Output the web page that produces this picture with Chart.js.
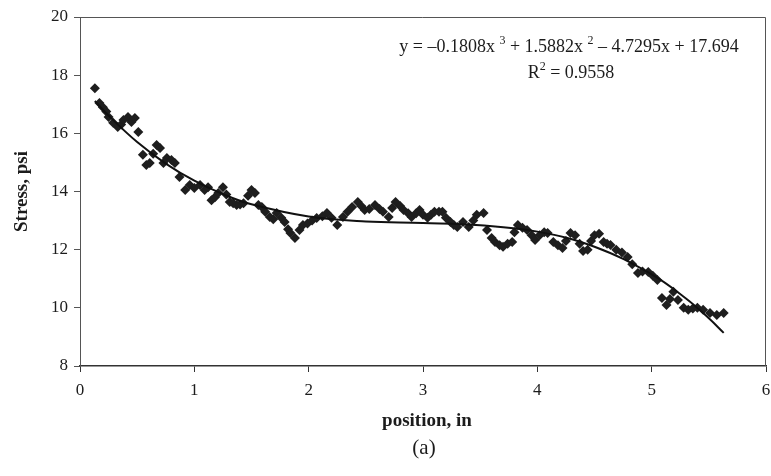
<!DOCTYPE html>
<html>
<head>
<meta charset="utf-8">
<script src="https://cdn.jsdelivr.net/npm/chart.js@4/dist/chart.umd.min.js"></script>
<style>
  html, body { margin: 0; padding: 0; background: #fff; }
  #wrap { width: 771px; height: 476px; }
</style>
</head>
<body>
<div id="wrap"><canvas id="myChart"></canvas></div>
<script>
// measured points (position in, stress psi)
const posX = [0.13, 0.17, 0.20, 0.23, 0.25, 0.29, 0.33, 0.36, 0.38, 0.42, 0.45, 0.48, 0.51, 0.55, 0.58, 0.61, 0.64, 0.67, 0.70, 0.73,
  0.76, 0.80, 0.83, 0.87, 0.92, 0.96, 1.00, 1.05, 1.09, 1.12, 1.15, 1.18, 1.21, 1.25, 1.28, 1.31, 1.34, 1.37, 1.40, 1.43,
  1.47, 1.50, 1.53, 1.56, 1.59, 1.62, 1.66, 1.69, 1.72, 1.76, 1.79, 1.82, 1.84, 1.88, 1.92, 1.95, 1.99, 2.03, 2.07, 2.12,
  2.16, 2.20, 2.25, 2.30, 2.34, 2.38, 2.43, 2.46, 2.49, 2.53, 2.58, 2.62, 2.65, 2.70, 2.73, 2.76, 2.80, 2.83, 2.87, 2.90,
  2.94, 2.97, 3.00, 3.04, 3.07, 3.10, 3.14, 3.17, 3.20, 3.24, 3.27, 3.30, 3.35, 3.40, 3.44, 3.47, 3.53, 3.56, 3.60, 3.63,
  3.67, 3.70, 3.74, 3.78, 3.80, 3.83, 3.87, 3.91, 3.95, 3.98, 4.02, 4.06, 4.09, 4.14, 4.18, 4.22, 4.25, 4.29, 4.33, 4.37,
  4.40, 4.44, 4.47, 4.50, 4.54, 4.58, 4.61, 4.64, 4.69, 4.74, 4.79, 4.83, 4.88, 4.92, 4.97, 5.01, 5.05, 5.09, 5.13, 5.16,
  5.19, 5.23, 5.28, 5.32, 5.36, 5.40, 5.45, 5.51, 5.57, 5.63];
const stress = [17.55, 17.04, 16.9, 16.75, 16.56, 16.36, 16.22, 16.3, 16.46, 16.56, 16.39, 16.53, 16.05, 15.26, 14.91, 14.98, 15.3, 15.6, 15.5, 14.98,
  15.15, 15.08, 14.98, 14.5, 14.05, 14.22, 14.12, 14.22, 14.05, 14.15, 13.7, 13.8, 13.95, 14.15, 13.9, 13.64, 13.6, 13.54, 13.55, 13.6,
  13.85, 14.05, 13.95, 13.54, 13.47, 13.3, 13.12, 13.05, 13.26, 13.1, 12.95, 12.7, 12.57, 12.4, 12.68, 12.85, 12.9, 13.0, 13.09, 13.15,
  13.26, 13.1, 12.85, 13.12, 13.3, 13.47, 13.64, 13.5, 13.36, 13.4, 13.54, 13.4, 13.3, 13.12, 13.43, 13.64, 13.5, 13.36, 13.25, 13.12,
  13.25, 13.36, 13.2, 13.1, 13.2, 13.3, 13.3, 13.3, 13.1, 12.95, 12.85, 12.78, 12.95, 12.78, 13.0, 13.2, 13.26, 12.68, 12.4, 12.26,
  12.15, 12.1, 12.2, 12.26, 12.6, 12.85, 12.75, 12.68, 12.5, 12.33, 12.5, 12.6, 12.57, 12.26, 12.15, 12.06, 12.3, 12.57, 12.5, 12.2,
  11.95, 12.0, 12.3, 12.5, 12.55, 12.26, 12.2, 12.16, 12.0, 11.9, 11.75, 11.5, 11.2, 11.25, 11.23, 11.1, 10.96, 10.34, 10.1, 10.3,
  10.55, 10.27, 10.0, 9.93, 9.98, 10.0, 9.93, 9.82, 9.75, 9.82];

// trend line values
const trendX = [0.13, 0.25, 0.5, 0.75, 1, 1.25, 1.5, 2, 2.5, 3, 3.5, 4, 4.5, 5, 5.3, 5.5, 5.63];
const trendY = [17.11, 16.61, 15.70, 14.96, 14.37, 13.91, 13.56, 13.14, 12.97, 12.92, 12.84, 12.62, 12.10, 11.15, 10.32, 9.64, 9.14];

const xTicks = [0, 1, 2, 3, 4, 5, 6];
const yTicks = [8, 10, 12, 14, 16, 18, 20];

const eqParts = [["y = \u20130.1808x ", ""], ["3", "sup"], [" + 1.5882x ", ""], ["2", "sup"], [" \u2013 4.7295x + 17.694", ""]];
const r2Parts = [["R", ""], ["2", "sup"], [" = 0.9558", ""]];
const xTitle = "position, in";
const figLabel = "(a)";

const serif = "'Liberation Serif', 'Times New Roman', serif";
const ink = "#1c1c1c";

// draws the box, the trendline equation, x title and the (a) caption
const extras = {
  id: "extras",
  afterDraw(chart) {
    const c = chart.ctx;
    const a = chart.chartArea;
    c.save();
    c.strokeStyle = "#555";
    c.lineWidth = 1;
    c.beginPath();
    c.moveTo(a.left, a.top + 0.5);
    c.lineTo(a.right - 0.5, a.top + 0.5);
    c.lineTo(a.right - 0.5, a.bottom);
    c.stroke();

    c.fillStyle = ink;
    c.textBaseline = "alphabetic";
    const line = (parts, cx, y) => {
      let w = 0;
      parts.forEach(p => {
        c.font = (p[1] ? "12px " : "18px ") + serif;
        w += c.measureText(p[0]).width;
      });
      let x = cx - w / 2;
      parts.forEach(p => {
        c.font = (p[1] ? "12px " : "18px ") + serif;
        c.fillText(p[0], x, p[1] ? y - 8 : y);
        x += c.measureText(p[0]).width;
      });
    };
    line(eqParts, 569, 52);
    line(r2Parts, 571, 78);

    c.textAlign = "center";
    c.font = "bold 19px " + serif;
    c.fillText(xTitle, 427, 426);
    c.font = "21px " + serif;
    c.fillText(figLabel, 424, 454);
    c.restore();
  }
};

let ctx = document.getElementById("myChart");
let myChart = new Chart(ctx, {
  data: {
    datasets: [{
      type: "line",
      label: "trend",
      data: trendX.map((x, i) => ({ x: x, y: trendY[i] })),
      borderColor: "#111",
      borderWidth: 2,
      pointRadius: 0,
      tension: 0.4,
      fill: false
    }, {
      type: "scatter",
      label: "stress",
      data: posX.map((x, i) => ({ x: x, y: stress[i] })),
      pointStyle: "rectRot",
      pointRadius: 5,
      backgroundColor: "#1e1e1e",
      borderColor: "#1e1e1e",
      borderWidth: 0
    }]
  },
  options: {
    responsive: true,
    maintainAspectRatio: false,
    animation: false,
    layout: { padding: { top: 17, right: 4, left: 0, bottom: 40 } },
    plugins: { legend: { display: false }, tooltip: { enabled: false } },
    scales: {
      x: {
        type: "linear",
        min: 0,
        max: 6,
        afterBuildTicks: s => { s.ticks = xTicks.map(v => ({ value: v })); },
        afterFit: s => { s.height = 70; s.paddingLeft = 0; s.paddingRight = 0; },
        grid: { drawOnChartArea: false, drawTicks: true, tickLength: 6, color: "#333" },
        border: { display: true, color: "#333", width: 1.5 },
        ticks: { color: ink, font: { family: serif, size: 17 }, padding: 8 },
        title: { display: false }
      },
      y: {
        type: "linear",
        min: 8,
        max: 20,
        afterBuildTicks: s => { s.ticks = yTicks.map(v => ({ value: v })); },
        afterFit: s => { s.width = 80; },
        grid: { drawOnChartArea: false, drawTicks: true, tickLength: 6, color: "#555" },
        border: { display: true, color: "#555", width: 1 },
        ticks: { color: ink, font: { family: serif, size: 17 }, padding: 6 },
        title: { display: true, text: "Stress, psi", color: ink, font: { family: serif, size: 19, weight: "bold" }, padding: { top: 11, bottom: 4 } }
      }
    }
  },
  plugins: [extras]
});
</script>
</body>
</html>
